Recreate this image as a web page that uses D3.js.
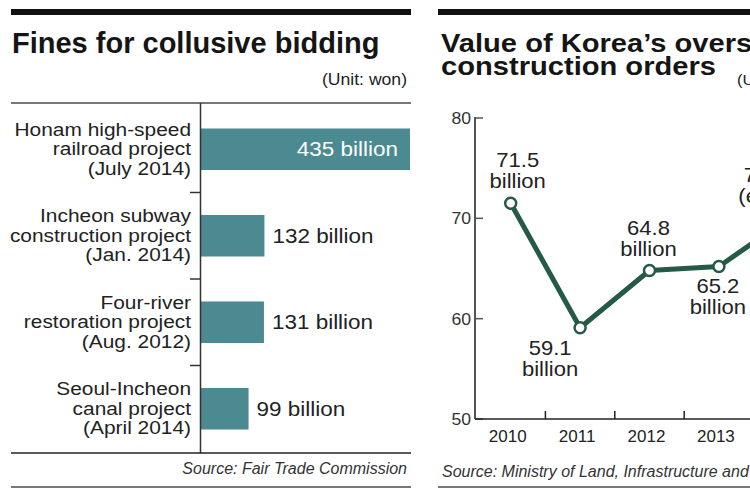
<!DOCTYPE html>
<html>
<head>
<meta charset="utf-8">
<script src="https://cdn.jsdelivr.net/npm/d3@7/dist/d3.min.js"></script>
<style>
  html, body { margin: 0; padding: 0; background: #fff; }
  svg { display: block; font-family: "Liberation Sans", Arial, Helvetica, sans-serif; }
</style>
</head>
<body>
<svg id="chart" width="750" height="495"></svg>
<script>
// ---------------- DATA ----------------
const fineTitle = "Fines for collusive bidding";
const fineUnit = "(Unit: won)";
const fineCategories = [
  ["Honam high-speed", "railroad project", "(July 2014)"],
  ["Incheon subway", "construction project", "(Jan. 2014)"],
  ["Four-river", "restoration project", "(Aug. 2012)"],
  ["Seoul-Incheon", "canal project", "(April 2014)"]
];
const fineValues = [435, 132, 131, 99];
const fineSource = "Source: Fair Trade Commission";

const orderTitle = ["Value of Korea\u2019s overseas", "construction orders"];
const orderUnit = "(Unit: dollars)";
const years = [2010, 2011, 2012, 2013, 2014];
const orderValues = [71.5, 59.1, 64.8, 65.2, 70];
const orderLabelLine1 = ["71.5", "59.1", "64.8", "65.2", "70 billion"];
const orderLabelLine2 = ["billion", "billion", "billion", "billion", "(estimate)"];
const orderLabelSide = ["above", "below", "above", "below", "above"];
const yTicks = [50, 60, 70, 80];
const orderSource = "Source: Ministry of Land, Infrastructure and Transport";

// ---------------- HELPERS ----------------
const svg = d3.select("#chart");
function txt(parent, x, y, str, o = {}) {
  const g = parent.append("g")
    .attr("transform", `translate(${x},${y}) scale(${o.sx || 1},1)`);
  g.append("text")
    .attr("x", 0).attr("y", 0)
    .attr("text-anchor", o.anchor || "start")
    .attr("font-size", o.size || 16)
    .attr("font-weight", o.weight || "normal")
    .attr("font-style", o.style || "normal")
    .attr("fill", o.fill || "#222")
    .text(str);
  return g;
}

// ---------------- LEFT PANEL ----------------
const L = svg.append("g");
L.append("rect").attr("x", 11).attr("y", 9).attr("width", 400).attr("height", 6).attr("fill", "#111");
txt(L, 12, 53, fineTitle, { size: 29, weight: "bold", fill: "#151515" });
txt(L, 407, 85, fineUnit, { size: 16, anchor: "end", sx: 1.1 });
L.append("line").attr("x1", 11).attr("x2", 411).attr("y1", 103).attr("y2", 103)
  .attr("stroke", "#777").attr("stroke-width", 2);

const yb = d3.scaleBand().domain(d3.range(fineValues.length)).range([106, 452])
  .paddingInner(0.52).paddingOuter(0.26);
const xb = d3.scaleLinear().domain([0, d3.max(fineValues)]).range([201, 410]);

L.selectAll("rect.bar").data(fineValues).join("rect")
  .attr("class", "bar")
  .attr("x", xb(0))
  .attr("y", (d, i) => yb(i))
  .attr("width", d => xb(d) - xb(0))
  .attr("height", yb.bandwidth())
  .attr("fill", "#4a8a90");

// axis line and separators
L.append("line").attr("x1", 200.5).attr("x2", 200.5).attr("y1", 103).attr("y2", 453)
  .attr("stroke", "#333").attr("stroke-width", 1.5);
const seps = d3.range(1, fineValues.length).map(i => yb(i) - yb.step() * yb.paddingInner() / 2);
L.selectAll("line.sep").data(seps).join("line")
  .attr("class", "sep")
  .attr("x1", 190).attr("x2", 200.5).attr("y1", d => d).attr("y2", d => d)
  .attr("stroke", "#333").attr("stroke-width", 1.5);

fineCategories.forEach((lines, i) => {
  const c = yb(i) + yb.bandwidth() / 2;
  lines.forEach((s, k) => {
    txt(L, 191, c + (k - 1) * 19.5 + 6, s, { size: 18.5, anchor: "end", sx: 1.13, fill: "#222" });
  });
  const v = fineValues[i];
  const lab = `${v} billion`;
  if (xb(v) - xb(0) > 150) {
    txt(L, xb(v) - 12, c + 7, lab, { size: 21, anchor: "end", sx: 1.07, fill: "#fff" });
  } else {
    txt(L, xb(v) + 8, c + 7, lab, { size: 21, anchor: "start", sx: 1.07, fill: "#222" });
  }
});

L.append("line").attr("x1", 11).attr("x2", 411).attr("y1", 453).attr("y2", 453)
  .attr("stroke", "#222").attr("stroke-width", 1.5);
txt(L, 407, 474, fineSource, { size: 16, anchor: "end", style: "italic", fill: "#333" });
L.append("line").attr("x1", 11).attr("x2", 411).attr("y1", 487).attr("y2", 487)
  .attr("stroke", "#777").attr("stroke-width", 2);

// ---------------- RIGHT PANEL ----------------
const R = svg.append("g");
R.append("rect").attr("x", 438).attr("y", 9).attr("width", 320).attr("height", 6).attr("fill", "#111");
txt(R, 441, 52, orderTitle[0], { size: 26, weight: "bold", sx: 1.12, fill: "#151515" });
txt(R, 441, 75, orderTitle[1], { size: 26, weight: "bold", sx: 1.12, fill: "#151515" });
txt(R, 737, 85, orderUnit, { size: 15, sx: 1.1 });

const y = d3.scaleLinear().domain([50, 80]).range([419, 118]);
const x = d3.scalePoint().domain(years).range([510.7, 788.3]);

// y axis
R.append("line").attr("x1", 475).attr("x2", 475).attr("y1", 117).attr("y2", 419)
  .attr("stroke", "#555").attr("stroke-width", 2);
R.selectAll("line.yt").data(yTicks).join("line")
  .attr("class", "yt")
  .attr("x1", 475).attr("x2", 483).attr("y1", d => y(d)).attr("y2", d => y(d))
  .attr("stroke", "#555").attr("stroke-width", 1.5);
yTicks.forEach(t => txt(R, 471, y(t) + 6, String(t), { size: 16, anchor: "end", sx: 1.1, fill: "#333" }));

// x axis
R.append("line").attr("x1", 475).attr("x2", 760).attr("y1", 419).attr("y2", 419)
  .attr("stroke", "#222").attr("stroke-width", 1.5);
const step = x.step();
R.selectAll("line.xt").data(years.slice(0, -1)).join("line")
  .attr("class", "xt")
  .attr("x1", d => x(d) + step / 2).attr("x2", d => x(d) + step / 2)
  .attr("y1", 411).attr("y2", 419)
  .attr("stroke", "#222").attr("stroke-width", 1.5);
years.forEach(yr => txt(R, x(yr) - 3, 442, String(yr), { size: 17, anchor: "middle", fill: "#222" }));

// line + markers
const lineGen = d3.line().x((d, i) => x(years[i])).y(d => y(d));
R.append("path").datum(orderValues)
  .attr("d", lineGen)
  .attr("fill", "none").attr("stroke", "#245a46").attr("stroke-width", 5)
  .attr("stroke-linejoin", "round");
R.selectAll("circle.pt").data(orderValues).join("circle")
  .attr("class", "pt")
  .attr("cx", (d, i) => x(years[i])).attr("cy", d => y(d)).attr("r", 5.5)
  .attr("fill", "#fff").attr("stroke", "#245a46").attr("stroke-width", 2.5);

// value labels
orderValues.forEach((v, i) => {
  const px = x(years[i]), py = y(v);
  let cx = px - 1, b1, b2;
  if (orderLabelSide[i] === "above") { b1 = py - 36; b2 = py - 15; }
  else { b1 = py + 27; b2 = py + 48; }
  if (i === 0) cx = px + 7;
  if (i === 1) cx = px - 30;
  txt(R, cx, b1, orderLabelLine1[i], { size: 21, anchor: "middle", sx: 1.05, fill: "#222" });
  txt(R, cx, b2, orderLabelLine2[i], { size: 21, anchor: "middle", sx: 1.05, fill: "#222" });
});

txt(R, 442, 477, orderSource, { size: 16, style: "italic", fill: "#333" });
R.append("line").attr("x1", 438).attr("x2", 760).attr("y1", 487).attr("y2", 487)
  .attr("stroke", "#777").attr("stroke-width", 2);
</script>
</body>
</html>
